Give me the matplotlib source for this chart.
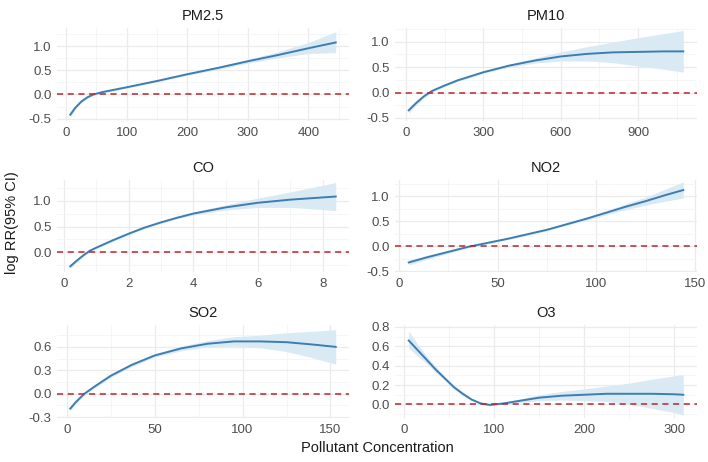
import numpy as np
import matplotlib.pyplot as plt
from matplotlib.ticker import MultipleLocator, AutoMinorLocator, FormatStrFormatter

plt.rcParams['font.family'] = ['Liberation Sans', 'DejaVu Sans']
plt.rcParams['axes.unicode_minus'] = False

# ---- data ----
pm25_x = [7, 15, 25, 35, 45, 60, 80, 100, 150, 200, 250, 300, 350, 400, 445]
pm25_y = [-0.42, -0.28, -0.15, -0.06, 0.0, 0.05, 0.10, 0.15, 0.28, 0.42, 0.55, 0.69, 0.82, 0.96, 1.08]
pm25_lo = [-0.47, -0.31, -0.17, -0.08, -0.02, 0.03, 0.08, 0.13, 0.26, 0.40, 0.52, 0.65, 0.76, 0.85, 0.87]
pm25_hi = [-0.37, -0.25, -0.13, -0.04, 0.02, 0.07, 0.12, 0.17, 0.30, 0.44, 0.58, 0.73, 0.89, 1.08, 1.30]

pm10_x = [10, 40, 70, 100, 150, 200, 300, 400, 500, 600, 700, 800, 900, 1000, 1075]
pm10_y = [-0.35, -0.20, -0.07, 0.03, 0.14, 0.24, 0.40, 0.53, 0.63, 0.71, 0.76, 0.79, 0.80, 0.81, 0.81]
pm10_lo = [-0.41, -0.24, -0.10, 0.01, 0.12, 0.22, 0.38, 0.50, 0.58, 0.62, 0.62, 0.59, 0.52, 0.46, 0.40]
pm10_hi = [-0.29, -0.16, -0.04, 0.05, 0.16, 0.26, 0.42, 0.56, 0.68, 0.80, 0.90, 0.99, 1.08, 1.16, 1.22]

co_x = [0.2, 0.4, 0.6, 0.8, 1.0, 1.5, 2, 2.5, 3, 3.5, 4, 5, 6, 7, 8.4]
co_y = [-0.27, -0.16, -0.06, 0.03, 0.09, 0.23, 0.36, 0.48, 0.58, 0.67, 0.75, 0.87, 0.96, 1.02, 1.08]
co_lo = [-0.31, -0.19, -0.08, 0.01, 0.07, 0.21, 0.34, 0.46, 0.56, 0.65, 0.72, 0.82, 0.87, 0.87, 0.81]
co_hi = [-0.23, -0.13, -0.04, 0.05, 0.11, 0.25, 0.38, 0.50, 0.60, 0.69, 0.78, 0.92, 1.05, 1.17, 1.35]

no2_x = [5, 15, 25, 35, 45, 55, 65, 75, 85, 95, 105, 115, 125, 135, 144]
no2_y = [-0.32, -0.21, -0.11, -0.01, 0.07, 0.15, 0.24, 0.33, 0.44, 0.55, 0.67, 0.79, 0.90, 1.02, 1.12]
no2_lo = [-0.37, -0.25, -0.14, -0.03, 0.05, 0.13, 0.22, 0.31, 0.42, 0.52, 0.63, 0.73, 0.82, 0.90, 0.96]
no2_hi = [-0.27, -0.17, -0.08, 0.01, 0.09, 0.17, 0.26, 0.35, 0.46, 0.58, 0.71, 0.85, 0.98, 1.14, 1.28]

so2_x = [2, 5, 10, 15, 25, 37, 50, 65, 80, 95, 110, 125, 140, 153]
so2_y = [-0.19, -0.11, 0.0, 0.08, 0.23, 0.37, 0.49, 0.58, 0.64, 0.67, 0.67, 0.66, 0.63, 0.60]
so2_lo = [-0.22, -0.13, -0.02, 0.06, 0.21, 0.35, 0.47, 0.55, 0.60, 0.61, 0.59, 0.54, 0.46, 0.38]
so2_hi = [-0.16, -0.09, 0.02, 0.10, 0.25, 0.39, 0.51, 0.61, 0.68, 0.73, 0.75, 0.78, 0.80, 0.82]

o3_x = [5, 15, 25, 35, 45, 55, 65, 75, 85, 95, 110, 130, 150, 175, 200, 225, 250, 275, 300, 310]
o3_y = [0.66, 0.56, 0.46, 0.36, 0.27, 0.18, 0.11, 0.05, 0.01, -0.005, 0.01, 0.04, 0.07, 0.09, 0.10, 0.11, 0.11, 0.11, 0.105, 0.10]
o3_lo = [0.58, 0.50, 0.42, 0.33, 0.25, 0.16, 0.09, 0.04, 0.0, -0.015, 0.0, 0.02, 0.04, 0.045, 0.04, 0.03, 0.0, -0.04, -0.085, -0.11]
o3_hi = [0.76, 0.62, 0.50, 0.39, 0.29, 0.20, 0.13, 0.06, 0.02, 0.005, 0.02, 0.06, 0.10, 0.135, 0.16, 0.19, 0.22, 0.26, 0.295, 0.31]

# name, data, x tick step, y tick step, y range
panels = [
    ('PM2.5', pm25_x, pm25_y, pm25_lo, pm25_hi, 100, 0.5, (-0.55, 1.38)),
    ('PM10', pm10_x, pm10_y, pm10_lo, pm10_hi, 300, 0.5, (-0.56, 1.27)),
    ('CO', co_x, co_y, co_lo, co_hi, 2, 0.5, (-0.38, 1.40)),
    ('NO2', no2_x, no2_y, no2_lo, no2_hi, 50, 0.5, (-0.51, 1.32)),
    ('SO2', so2_x, so2_y, so2_lo, so2_hi, 50, 0.3, (-0.31, 0.88)),
    ('O3', o3_x, o3_y, o3_lo, o3_hi, 100, 0.2, (-0.14, 0.82)),
]

W, H = 708, 462
fig = plt.figure(figsize=(W / 100, H / 100), dpi=100)

# panel boxes in pixels
col_px = [(57, 349), (395, 697)]
row_px = [(28, 121), (180, 272), (325, 418)]

for i, (name, x, y, lo, hi, xstep, ystep, ylim) in enumerate(panels):
    r, c = divmod(i, 2)
    l, rr = col_px[c]
    t, b = row_px[r]
    ax = fig.add_axes([l / W, 1 - b / H, (rr - l) / W, (b - t) / H])

    ax.fill_between(x, lo, hi, color='#d9eaf5', lw=0, zorder=2)
    ax.plot(x, y, color='#3d7db2', lw=1.4, zorder=3)
    ax.axhline(0, color='#b8272a', lw=1.1, ls=(0, (4, 3)), zorder=4)
    ax.set_ylim(*ylim)

    ax.xaxis.set_major_locator(MultipleLocator(xstep))
    ax.yaxis.set_major_locator(MultipleLocator(ystep))
    ax.xaxis.set_minor_locator(AutoMinorLocator(2))
    ax.yaxis.set_minor_locator(AutoMinorLocator(2))
    ax.yaxis.set_major_formatter(FormatStrFormatter('%.1f'))
    ax.xaxis.set_major_formatter(FormatStrFormatter('%g'))

    ax.grid(True, which='major', color='#ebebeb', lw=0.9, zorder=0)
    ax.grid(True, which='minor', color='#f4f4f4', lw=0.6, zorder=0)
    ax.set_axisbelow(True)
    for s in ax.spines.values():
        s.set_visible(False)
    ax.tick_params(which='both', length=0, labelsize=9.5, labelcolor='#4d4d4d', pad=4)
    ax.set_title(name, fontsize=10.5, color='#1a1a1a', pad=6)

fig.text(377 / W, 1 - 448 / H, 'Pollutant Concentration', ha='center', va='center',
         fontsize=10.5, color='#1a1a1a')
fig.text(12 / W, 1 - 223 / H, 'log RR(95% CI)', ha='center', va='center',
         rotation=90, fontsize=10.5, color='#1a1a1a')

fig.savefig('out.png', dpi=100, facecolor='white')
